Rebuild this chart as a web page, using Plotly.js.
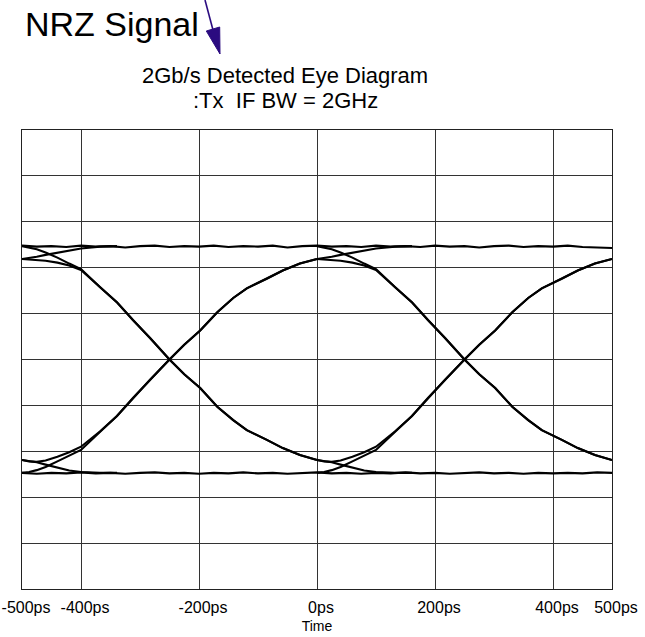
<!DOCTYPE html>
<html>
<head>
<meta charset="utf-8">
<script src="https://cdn.plot.ly/plotly-3.0.1.min.js"></script>
<style>html,body{margin:0;padding:0;background:#fff;}#chart{width:645px;height:637px;}</style>
</head>
<body>
<div id="chart"></div>
<script>
// ---- data (time in ps, amplitude in screen divisions 0..10) ----
const bitStarts = [-500, 0];                // the window shows two unit intervals
// sample times within one unit interval, relative to its start (ps)
const tHalf = [0, 12, 25, 40, 60, 80, 100, 132, 161, 188, 217, 250, 275, 302, 331, 358, 381, 415, 442, 471, 500];
// falling edge starting from a long run of ones
const fallFromHigh = [7.47, 7.44, 7.40, 7.33, 7.22, 7.09, 6.97, 6.58, 6.25, 5.86, 5.47, 5.00, 4.68, 4.38, 3.97, 3.68, 3.46, 3.25, 3.07, 2.92, 2.81];
// falling edge starting from an isolated one (peak)
const fallFromPeak = [7.19, 7.18, 7.17, 7.15, 7.11, 7.05, 6.95, 6.57, 6.24, 5.86, 5.47, 5.00, 4.68, 4.38, 3.97, 3.68, 3.46, 3.25, 3.07, 2.92, 2.81];
// rising edge starting from a long run of zeros
const riseFromLow = [2.53, 2.55, 2.59, 2.66, 2.78, 2.90, 3.03, 3.42, 3.77, 4.16, 4.56, 5.00, 5.32, 5.63, 6.03, 6.34, 6.55, 6.76, 6.94, 7.09, 7.19];
// rising edge starting from an isolated zero (dip)
const riseFromDip = [2.81, 2.78, 2.77, 2.80, 2.88, 2.98, 3.10, 3.43, 3.77, 4.16, 4.56, 5.00, 5.32, 5.63, 6.03, 6.34, 6.55, 6.76, 6.94, 7.09, 7.19];
// after a rising edge, level keeps climbing to the steady one level
const tSettle = [0, 12, 25, 40, 60, 80, 100, 132, 161];
const settleHigh = [7.19, 7.21, 7.24, 7.28, 7.33, 7.38, 7.42, 7.46, 7.47];
// after a falling edge, level keeps sinking to the steady zero level
const settleLow = [2.81, 2.79, 2.76, 2.71, 2.64, 2.58, 2.55, 2.53, 2.53];
// steady one / zero levels across the whole window (every 25 ps)
const tFlat = [-500,-475,-450,-425,-400,-375,-350,-325,-300,-275,-250,-225,-200,-175,-150,-125,-100,-75,-50,-25,0,25,50,75,100,125,150,175,200,225,250,275,300,325,350,375,400,425,450,475,500];
const highLevel = [7.48,7.46,7.47,7.45,7.48,7.46,7.47,7.44,7.47,7.48,7.45,7.47,7.46,7.48,7.45,7.47,7.46,7.48,7.44,7.47,7.48,7.46,7.47,7.45,7.48,7.46,7.47,7.45,7.48,7.46,7.47,7.44,7.47,7.48,7.45,7.47,7.46,7.48,7.45,7.44,7.43];
const lowLevel = [2.53,2.51,2.53,2.52,2.54,2.52,2.53,2.51,2.53,2.54,2.52,2.53,2.51,2.53,2.52,2.54,2.52,2.53,2.51,2.53,2.54,2.52,2.53,2.51,2.53,2.52,2.54,2.52,2.53,2.51,2.53,2.54,2.52,2.53,2.51,2.53,2.52,2.53,2.52,2.54,2.53];
const xTickVals = [-500, -400, -200, 0, 200, 400, 500];
const xTickText = ['-500ps', '-400ps', '-200ps', '0ps', '200ps', '400ps', '500ps'];

// ---- build traces ----
const lineStyle = {color: '#000', width: 2.1};
const traces = [];
function add(xs, ys) {
  traces.push({x: xs, y: ys, type: 'scatter', mode: 'lines', line: lineStyle, hoverinfo: 'skip', showlegend: false});
}
add(tFlat, highLevel);
add(tFlat, lowLevel);
bitStarts.forEach(s => {
  const tx = tHalf.map(t => t + s);
  add(tx, fallFromHigh);
  add(tx, fallFromPeak);
  add(tx, riseFromLow);
  add(tx, riseFromDip);
  const ts = tSettle.map(t => t + s);
  add(ts, settleHigh);
  add(ts, settleLow);
});

const FONT = '"Liberation Sans", Arial, Helvetica, sans-serif';
const L = 22, R = 612, T = 130, B = 589;
const px = x => (x - L) / (R - L);
const py = y => (B - y) / (B - T);
const ARROW = '#2b0b80';
// arrow pointer (decoration): tail (205,0), head base (213,29), tip (220,54)
const headPath = 'M' + px(220) + ',' + py(54) + ' L' + px(219.7) + ',' + py(27) +
                 ' L' + px(206.3) + ',' + py(31) + ' Z';

const layout = {
  width: 645, height: 637,
  margin: {l: L, r: 645 - R, t: T, b: 637 - B},
  paper_bgcolor: '#fff', plot_bgcolor: '#fff',
  font: {family: FONT, color: '#000'},
  xaxis: {
    range: [-500, 500], tickvals: xTickVals, ticktext: xTickText,
    showgrid: true, gridcolor: '#333', gridwidth: 1,
    zeroline: false, showline: true, mirror: true, linecolor: '#222', linewidth: 1,
    ticks: '', ticklabelstandoff: 4, ticklabelshift: 4, ticklabeloverflow: 'allow',
    tickfont: {family: FONT, size: 16, color: '#000'},
    title: {text: 'Time', font: {family: FONT, size: 14, color: '#000'}, standoff: 5},
    fixedrange: true
  },
  yaxis: {
    range: [0, 10], dtick: 1, tick0: 0,
    showgrid: true, gridcolor: '#333', gridwidth: 1,
    zeroline: false, showline: true, mirror: true, linecolor: '#222', linewidth: 1,
    showticklabels: false, ticks: '', fixedrange: true
  },
  shapes: [
    {type: 'line', xref: 'paper', yref: 'paper', x0: px(205), y0: py(0), x1: px(213), y1: py(30),
     line: {color: ARROW, width: 1.6}},
    {type: 'path', xref: 'paper', yref: 'paper', path: headPath,
     fillcolor: ARROW, line: {color: ARROW, width: 1}}
  ],
  annotations: [
    {xref: 'paper', yref: 'paper', x: px(23), y: py(24), xanchor: 'left', yanchor: 'middle',
     text: 'NRZ Signal', showarrow: false, font: {family: FONT, size: 34, color: '#000'}},
    {xref: 'paper', yref: 'paper', x: px(285), y: py(75), xanchor: 'center', yanchor: 'middle',
     text: '2Gb/s Detected Eye Diagram', showarrow: false, font: {family: FONT, size: 22, color: '#000'}},
    {xref: 'paper', yref: 'paper', x: px(285), y: py(100), xanchor: 'center', yanchor: 'middle',
     text: ':Tx\u00a0\u00a0IF BW = 2GHz', showarrow: false, font: {family: FONT, size: 22, color: '#000'}}
  ]
};

Plotly.newPlot('chart', traces, layout, {displayModeBar: false, staticPlot: true});
</script>
</body>
</html>
